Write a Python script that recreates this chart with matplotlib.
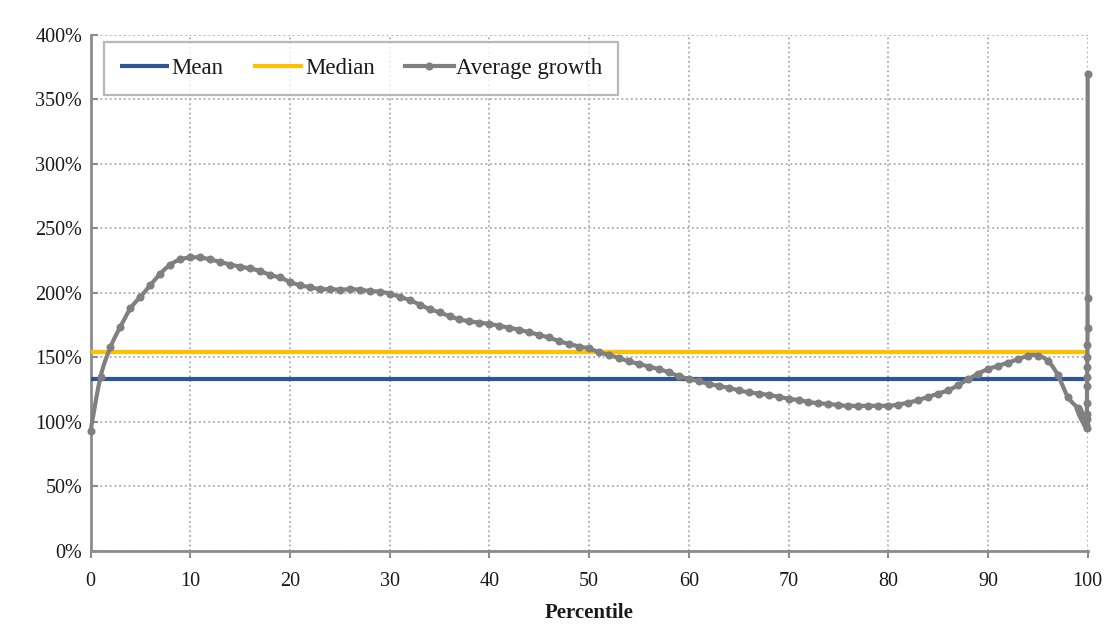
import numpy as np
import matplotlib
matplotlib.use("Agg")
import matplotlib.pyplot as plt
from matplotlib.ticker import FuncFormatter, MultipleLocator

# Average growth by percentile (percent)
percentiles = list(range(0, 100)) + [99.1, 99.2, 99.3, 99.4, 99.5, 99.6, 99.7, 99.8, 99.9,
                                      99.91, 99.92, 99.93, 99.94, 99.95, 99.96, 99.97, 99.98, 99.99,
                                      99.995, 100]
avg_growth = [
    93, 135, 158, 174, 188, 197, 206, 215, 222, 226,
    227.5, 227.5, 226, 224, 222, 220.5, 219, 217, 214, 212,
    208.5, 206, 204.5, 203, 203, 202.5, 203, 202.5, 201.5, 201,
    199.5, 197, 194.5, 191, 187.5, 185, 182, 179.5, 178, 177,
    176, 174.5, 173, 171.5, 169.5, 167.5, 165.5, 162.5, 160.5, 158.5,
    157, 154, 152, 149.5, 147, 145, 143, 141, 138.5, 135.5,
    133.5, 131.5, 129.5, 128, 126.5, 124.5, 123, 122, 121, 119.5,
    118, 117, 115.5, 114.5, 114, 113, 112.5, 112.5, 112.5, 112.5,
    112.5, 113.5, 115, 117, 119.5, 122, 124.5, 128.5, 133, 137.5,
    141, 143.5, 146, 148.5, 151.5, 151.5, 147.5, 136.5, 119.5, 111,
    109, 107, 105.5, 104, 102.5, 101, 99.5, 97.5, 95.5,
    102, 106, 115, 128, 135, 143, 150, 160, 173,
    196, 370,
]
mean_growth = 133
median_growth = 154.5

GREY = "#808080"
BLUE = "#2F5597"
GOLD = "#FFC000"
AXIS = "#8C8C8C"
GRID = "#ABABAB"
TEXT = "#1A1A1A"


def smooth_curve(xs, ys, sx=10.0, sy=1.3, n=16):
    """Catmull-Rom style Bezier smoothing, computed in display-like units."""
    px = np.asarray(xs, float) * sx
    py = np.asarray(ys, float) * sy
    P = np.column_stack([px, py])
    P = np.vstack([P[0], P, P[-1]])
    t = np.linspace(0, 1, n, endpoint=False)[:, None]
    out = []
    for i in range(1, len(P) - 2):
        p0, p1, p2, p3 = P[i - 1], P[i], P[i + 1], P[i + 2]
        c1 = p1 + (p2 - p0) / 6.0
        c2 = p2 - (p3 - p1) / 6.0
        seg = ((1 - t) ** 3) * p1 + 3 * ((1 - t) ** 2) * t * c1 + 3 * (1 - t) * t ** 2 * c2 + t ** 3 * p2
        out.append(seg)
    out.append(P[-2][None, :])
    out = np.vstack(out)
    return out[:, 0] / sx, out[:, 1] / sy


plt.rcParams["font.family"] = ["Liberation Serif", "DejaVu Serif"]

fig = plt.figure(figsize=(11.11, 6.28), dpi=100)
ax = fig.add_axes([0.0815, 0.1226, 0.8975, 0.8218])

ax.set_xlim(0, 100)
ax.set_ylim(0, 400)

ax.plot([0, 100], [mean_growth, mean_growth], color=BLUE, lw=3.0, solid_capstyle="butt",
        label="Mean", zorder=3)
ax.plot([0, 100], [median_growth, median_growth], color=GOLD, lw=3.0, solid_capstyle="butt",
        label="Median", zorder=3)

sx, sy = smooth_curve(percentiles, avg_growth)
ax.plot(sx, sy, color=GREY, lw=3.0, zorder=4, solid_joinstyle="round", clip_on=False)
ax.plot(percentiles, avg_growth, linestyle="none", marker="o", markersize=4.8,
        color=GREY, zorder=5, clip_on=False)
# legend proxy for the line-with-markers series
ax.plot([], [], color=GREY, lw=3.0, marker="o", markersize=4.8, label="Average growth")

ax.xaxis.set_major_locator(MultipleLocator(10))
ax.yaxis.set_major_locator(MultipleLocator(50))
ax.yaxis.set_major_formatter(FuncFormatter(lambda v, p: f"{v:.0f}%"))

ax.grid(True, color=GRID, linestyle=(0, (1, 1.6)), linewidth=1.3, zorder=0)
for s in ("top", "right"):
    ax.spines[s].set_visible(False)
for s in ("left", "bottom"):
    ax.spines[s].set_color(AXIS)
    ax.spines[s].set_linewidth(2.0)

ax.tick_params(axis="y", direction="in", length=5, width=1.5, color=AXIS,
               labelsize=14.5, pad=6, labelcolor=TEXT)
ax.tick_params(axis="x", direction="out", length=5, width=1.5, color=AXIS,
               labelsize=14.5, pad=10, labelcolor=TEXT)

ax.set_xlabel("Percentile", fontsize=15, fontweight="bold", labelpad=9, color=TEXT)

leg = ax.legend(loc="upper left", bbox_to_anchor=(0.0135, 0.987), ncol=3,
                fontsize=16.5, frameon=True, fancybox=False, handlelength=2.15,
                handletextpad=0.1, columnspacing=1.3, borderpad=0.7,
                borderaxespad=0)
leg.get_frame().set_edgecolor("#A6A6A6")
leg.get_frame().set_linewidth(1.6)
for t in leg.get_texts():
    t.set_color(TEXT)

fig.savefig("out.png", dpi=100)
